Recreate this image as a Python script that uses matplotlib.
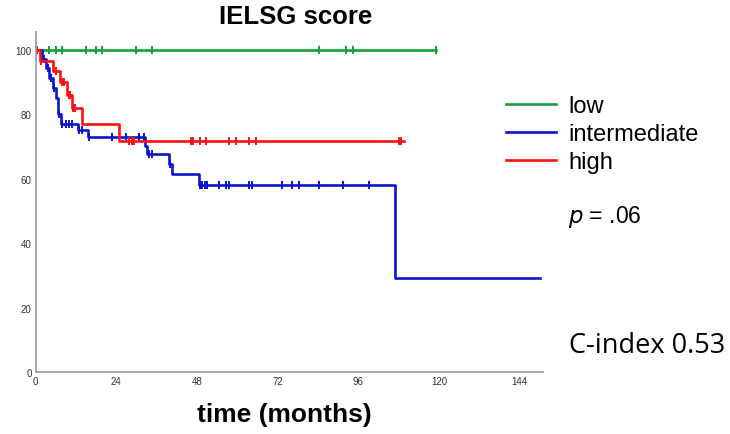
import matplotlib
matplotlib.use("Agg")
import matplotlib.pyplot as plt
import numpy as np

plt.rcParams["font.family"] = ["Liberation Sans", "DejaVu Sans"]

# Kaplan-Meier steps (months, survival %)
low_times = [0, 119]
low_surv = [100, 100]
low_censor = [4.0, 6.0, 7.9, 14.9, 17.9, 19.8, 29.8, 34.7, 84.3, 92.3, 94.3, 119]

mid_times = [0, 2.0, 3.0, 4.0, 5.0, 6.0, 6.6, 7.4, 12.6, 15.6, 32.4, 33.2,
             39.7, 40.4, 48.6, 106.8, 150]
mid_surv = [100, 97.2, 94.2, 91.1, 88.0, 84.9, 80.0, 77.0, 75.1, 72.8, 70.2,
            67.7, 64.6, 61.5, 58.0, 29.2, 29.2]
mid_censor = [2.4, 3.5, 4.5, 5.5, 7.0, 7.9, 8.9, 9.9, 10.9, 12.9, 13.9, 15.9,
              22.8, 26.8, 30.7, 32.2, 33.7, 34.7, 39.9, 48.8, 49.6, 50.3, 51.1,
              54.6, 56.5, 57.5, 63.5, 64.5, 73.4, 76.4, 78.4, 84.3, 91.3, 99.2]

high_times = [0, 1.3, 5.2, 7.1, 9.4, 10.9, 13.9, 24.8, 109.5]
high_surv = [100, 96.6, 93.3, 89.9, 86.0, 81.8, 77.0, 71.8, 71.8]
high_censor = [0.3, 1.6, 6.0, 7.9, 8.4, 9.8, 10.3, 11.2, 11.8, 27.8, 28.5, 29.3,
               46.1, 46.9, 48.8, 50.6, 57.5, 59.5, 63.5, 65.5, 108.1, 108.8]

groups = ["low", "intermediate", "high"]
colors = ["#12a03a", "#0a14cc", "#ff1010"]

x_ticks = [0, 24, 48, 72, 96, 120, 144]
y_ticks = [0, 20, 40, 60, 80, 100]


def surv_at(times, surv, t):
    idx = np.searchsorted(times, t, side="right") - 1
    return np.asarray(surv)[idx]


fig = plt.figure(figsize=(7.3, 4.35), dpi=100)
ax = fig.add_axes([0.049, 0.1425, 0.695, 0.7815])

series = [
    (low_times, low_surv, low_censor),
    (mid_times, mid_surv, mid_censor),
    (high_times, high_surv, high_censor),
]
for (times, surv, cens), name, col in zip(series, groups, colors):
    ax.step(times, surv, where="post", color=col, lw=1.9, label=name)
    ax.plot(cens, surv_at(times, surv, cens), ls="none", marker="|",
            ms=5.5, mew=1.4, color=col)

ax.set_xlim(0, 151)
ax.set_ylim(0, 105.5)
ax.set_xticks(x_ticks)
ax.set_yticks(y_ticks)
ax.tick_params(length=0, labelsize=7, colors="#333333", pad=3)
for side in ["top", "right"]:
    ax.spines[side].set_visible(False)
for side in ["left", "bottom"]:
    ax.spines[side].set_color("#999999")
    ax.spines[side].set_linewidth(1.2)

fig.text(0.405, 0.962, "IELSG score", ha="center", va="center",
         fontsize=18.5, fontweight="bold")
fig.text(0.389, 0.045, "time (months)", ha="center", va="center",
         fontsize=19, fontweight="bold")

fig.legend(loc="upper left", bbox_to_anchor=(0.664, 0.828), frameon=False,
           fontsize=17, handlelength=2.1, handletextpad=0.55, labelspacing=0.25)
fig.text(0.778, 0.50, r"$p$ = .06", ha="left", va="center", fontsize=16.5)
fig.text(0.993, 0.205, "C-index 0.53", ha="right", va="center",
         fontsize=19.5, family=["Open Sans", "DejaVu Sans"])

fig.savefig("out.png", dpi=100)
